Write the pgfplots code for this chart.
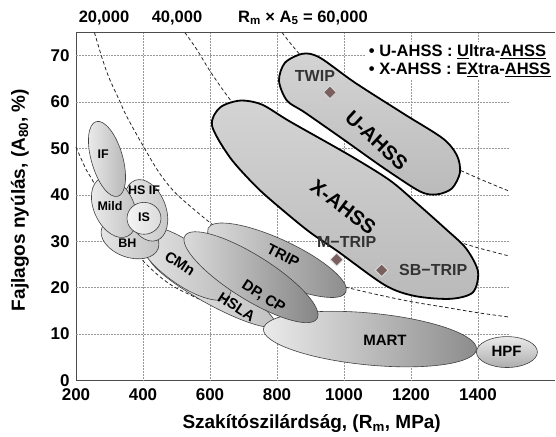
\documentclass[border=0pt]{standalone}
\usepackage{fontspec}
\setmainfont{Liberation Sans}
\usepackage{pgfplots}
\pgfplotsset{compat=1.18}
\newcommand{\fs}[1]{\fontsize{#1}{#1}\selectfont}
\definecolor{mk}{HTML}{7A5F5F}
\tikzset{
  gridsty/.style={black!40, densely dotted, line width=0.5pt},
  dsh/.style={black!85, dash pattern=on 3.5pt off 2.5pt, line width=0.8pt, smooth},
  shp/.style={draw=black!75, line width=0.6pt, smooth cycle, tension=0.68},
  big/.style={draw=black, line width=1.8pt, smooth cycle, tension=0.5},
  lbl/.style={font=\bfseries\fs{15}, inner sep=0pt},
  sml/.style={font=\bfseries\fs{12.5}, inner sep=0pt},
}
\begin{document}
\begin{tikzpicture}
\begin{axis}[
  scale only axis, width=479pt, height=348pt,
  xmin=200, xmax=1630, ymin=0, ymax=75,
  clip=false,
  axis y line*=left,
  axis line style={black!70, line width=0.9pt},
  major tick length=0pt,
  xtick={200,400,600,800,1000,1200,1400},
  xticklabels={200,400,600,800,1000,1200,1400},
  ytick={0,10,20,30,40,50,60,70},
  yticklabels={0,10,20,30,40,50,60,70},
  tick label style={font=\bfseries\fs{17}},
  xticklabel style={yshift=-5pt},
  yticklabel style={xshift=-3pt},
  label style={font=\bfseries\fs{19}},
  xlabel={Szakítószilárdság, (R\textsubscript{m}, MPa)},
  ylabel={Fajlagos nyúlás, (A\textsubscript{80}, \%)},
  xlabel style={at={(axis description cs:0.492,-0.125)}, anchor=center},
  ylabel style={at={(axis description cs:-0.117,0.519)}, anchor=center},
]
% grid
\addplot[gridsty] coordinates {(400,0) (400,75)};
\addplot[gridsty] coordinates {(600,0) (600,75)};
\addplot[gridsty] coordinates {(800,0) (800,75)};
\addplot[gridsty] coordinates {(1000,0) (1000,75)};
\addplot[gridsty] coordinates {(1200,0) (1200,75)};
\addplot[gridsty] coordinates {(1400,0) (1400,75)};
\addplot[gridsty] coordinates {(200,10) (1490,10)};
\addplot[gridsty] coordinates {(200,20) (1490,20)};
\addplot[gridsty] coordinates {(200,30) (1490,30)};
\addplot[gridsty] coordinates {(200,40) (1490,40)};
\addplot[gridsty] coordinates {(200,50) (1490,50)};
\addplot[gridsty] coordinates {(200,60) (1490,60)};
\addplot[gridsty] coordinates {(200,70) (1490,70)};
% iso Rm x A curves
\addplot[dsh] coordinates {(200,50.3) (230,45.5) (252,42.8) (300,35.8) (350,30.2) (400,25.8) (450,22.4) (500,19.9) (600,16.5) (650,15.2)};
\addplot[dsh] coordinates {(255,75) (280,69) (300,65) (330,60.3) (350,57.1) (400,50.6) (450,44.6) (500,40.2) (580,35.2) (650,31.2) (700,28.6) (800,25) (900,22.2) (1000,20.2) (1100,18.5) (1200,17) (1300,15.8) (1400,14.6) (1490,13.7)};
\addplot[dsh] coordinates {(525,75) (560,71.4) (600,66.7) (650,61.5) (700,57.1) (800,50) (900,44.4) (1000,40) (1100,36.4) (1200,33.3) (1300,30.8) (1400,28.6) (1495,26.8)};
\addplot[dsh] coordinates {(815,75) (850,71.8) (900,67.8) (1000,61) (1100,55.5) (1200,50.8) (1300,46.9) (1400,43.6) (1490,40.9)};
% steel grade regions
\addplot[shp, left color=black!8, right color=black!24] coordinates {(793.9,11.95) (724.5,12.29) (585.7,16.83) (458.7,22.91) (418.0,26.97) (487.4,26.63) (626.2,22.09) (753.2,16.02)}; % HSLA
\addplot[shp, left color=black!10, right color=black!26] coordinates {(657.6,18.19) (591.9,17.68) (485.5,21.62) (400.7,27.69) (387.2,32.34) (452.8,32.85) (559.2,28.92) (644.1,22.85)}; % CMn
\addplot[shp, left color=black!10, right color=black!24] coordinates {(445.4,28.44) (407.0,26.37) (341.8,26.80) (287.9,29.49) (277.0,32.85) (315.4,34.92) (380.6,34.49) (434.4,31.80)}; % BH
\addplot[shp, left color=black!8, right color=black!22] coordinates {(441.6,30.20) (392.4,31.05) (352.8,35.20) (346.2,40.20) (376.3,43.14) (425.5,42.28) (465.1,38.14) (471.7,33.13)}; % HS IF
\addplot[shp, left color=black!8, right color=black!24] coordinates {(353.7,31.08) (303.7,31.61) (259.4,35.48) (246.7,40.43) (273.1,43.55) (323.1,43.01) (367.5,39.14) (380.1,34.19)}; % Mild
\addplot[shp, left color=black!4, right color=black!14] coordinates {(453.7,34.95) (438.9,37.38) (403,38.39) (367.1,37.38) (352.3,34.95) (367.1,32.52) (403,31.51) (438.9,32.52)}; % IS
\addplot[shp, left color=black!8, right color=black!28] coordinates {(324.8,39.7) (347.2,42.7) (337.6,48.7) (301.8,54.1) (260.3,55.8) (237.9,52.8) (247.5,46.9) (283.3,41.4)}; % IF
\addplot[shp, left color=black!14, right color=black!45] coordinates {(1005.6,19.01) (926.6,18.14) (773.5,21.82) (635.9,27.90) (594.4,32.82) (673.3,33.69) (826.5,30.01) (964.1,23.92)}; % TRIP
\addplot[shp, left color=black!8, right color=black!45] coordinates {(1395.5,6.72) (1297.2,3.43) (1070.2,3.36) (847.5,6.55) (759.7,11.13) (858.1,14.42) (1085.0,14.49) (1307.6,11.30)}; % MART
\addplot[shp, left color=black!14, right color=black!48] coordinates {(919.4,13.32) (836.9,13.11) (687.4,18.25) (558.3,25.75) (525.4,31.20) (607.8,31.41) (757.4,26.26) (886.4,18.77)}; % DP, CP
\addplot[shp, top color=black!8, bottom color=black!32] coordinates {(1577.5,6.13) (1550.8,8.48) (1486.5,9.46) (1422.2,8.48) (1395.5,6.13) (1422.2,3.78) (1486.5,2.80) (1550.8,3.78)}; % HPF
\addplot[big, top color=black!17, bottom color=black!27] coordinates {(606.0,54.95) (629.8,58.82) (689.5,60.32) (755.2,59.46) (838.8,55.81) (1017.9,48.49) (1137.3,43.12) (1217.9,38.17) (1301.5,32.80) (1364.2,28.49) (1400.0,23.5) (1385.0,19.0) (1318.0,17.6) (1211.9,18.2) (1122.4,20.54) (981.1,27.85) (898.5,31.94) (817.9,36.67) (740.3,41.61) (659.7,48.06)}; % X-AHSS
\addplot[big, top color=black!17, bottom color=black!27] coordinates {(806.0,64.62) (823.9,68.49) (877.6,70.43) (928.3,69.57) (1032.8,64.19) (1182.1,57.31) (1295.5,52.15) (1337.3,48.49) (1346.3,44.84) (1322.4,41.40) (1277.6,40.11) (1226.8,40.75) (1116.4,45.91) (1003.0,51.72) (883.6,57.74) (829.8,60.32)}; % U-AHSS
% markers
\addplot[only marks, mark=square*, mark size=4.5pt, mark options={rotate=45, fill=mk, draw=black!15, line width=0.8pt}] coordinates {(958.2,62.11) (978.2,26.06) (1112.5,23.76)};
% labels
\node[sml] at (axis cs:281.5,48.86) {IF};
\node[sml] at (axis cs:403,40.97) {HS IF};
\node[sml] at (axis cs:301.5,37.53) {Mild};
\node[sml] at (axis cs:403,35.10) {IS};
\node[sml] at (axis cs:353.1,29.63) {BH};
\node[lbl, rotate=-33] at (axis cs:510.4,25.20) {CMn};
\node[lbl, rotate=-27] at (axis cs:818.8,26.99) {TRIP};
\node[lbl, rotate=-33] at (axis cs:759.1,18.02) {DP, CP};
\node[lbl, rotate=-33] at (axis cs:679.7,15.87) {HSLA};
\node[lbl] at (axis cs:1122.4,8.71) {MART};
\node[lbl] at (axis cs:1485.6,6.19) {HPF};
\node[lbl, font=\bfseries\fs{16}, text=black!80] at (axis cs:913.4,65.70) {TWIP};
\node[lbl, font=\bfseries\fs{16}, text=black!80] at (axis cs:1008.1,29.85) {M−TRIP};
\node[lbl, font=\bfseries\fs{16}, text=black!80] at (axis cs:1266.5,23.76) {SB−TRIP};
\node[lbl, font=\bfseries\fs{20}, rotate=-43] at (axis cs:1097.6,51.72) {U-AHSS};
\node[lbl, font=\bfseries\fs{20}, rotate=-37] at (axis cs:997.9,37.38) {X-AHSS};
% legend text
\node[anchor=north west, fill=white, inner sep=3pt, align=left, font=\bfseries\fs{16.5}]
  at (axis cs:1065,73) {\textbullet{} U-AHSS : \underline{U}ltra-\underline{AHSS}\\[1pt]\textbullet{} X-AHSS : E\underline{X}tra-\underline{AHSS}};
% top labels
\node[font=\bfseries\fs{16.5}] at (axis cs:283.6,78.17) {20,000};
\node[font=\bfseries\fs{16.5}] at (axis cs:501.5,78.17) {40,000};
\node[font=\bfseries\fs{16.5}] at (axis cs:877.6,78.17) {R\textsubscript{m} × A\textsubscript{5} = 60,000};
\end{axis}
\pgfresetboundingbox
\useasboundingbox ([shift={(-76pt,-56.5pt)}]current axis.south west) rectangle ([shift={(1pt,32.5pt)}]current axis.north east);
\end{tikzpicture}
\end{document}
